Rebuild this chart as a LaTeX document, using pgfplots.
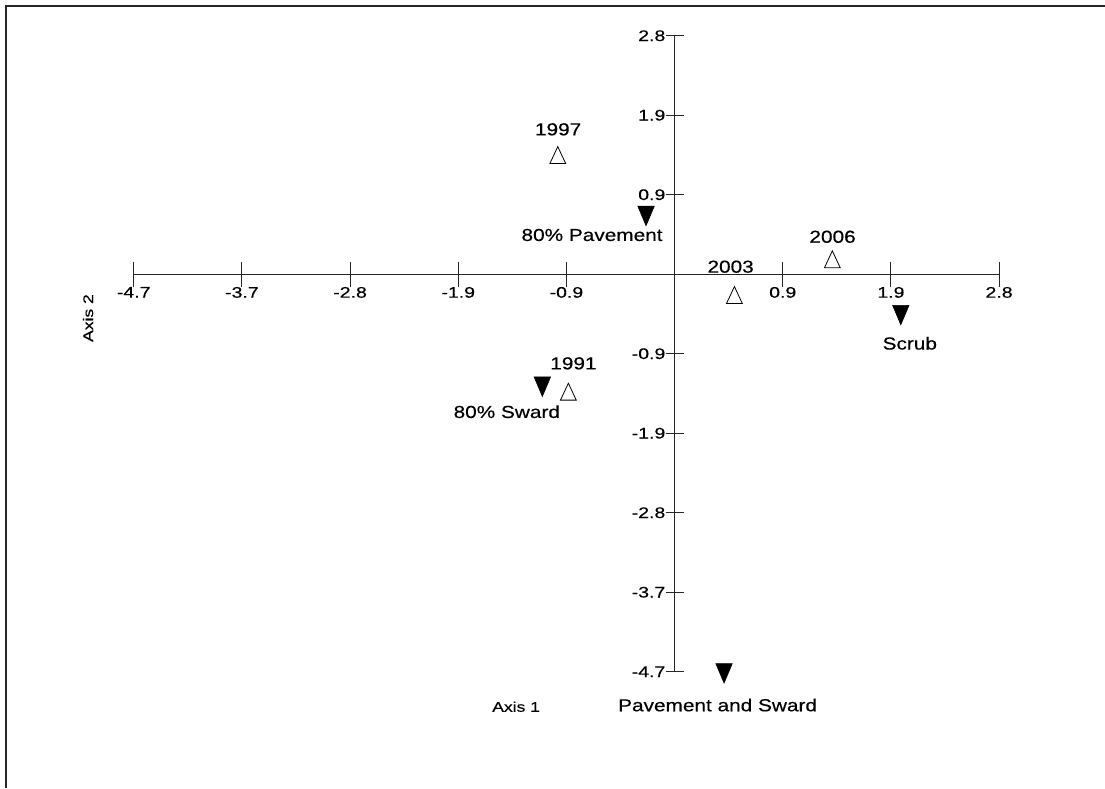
\documentclass[border=0pt]{standalone}
\usepackage{fontspec}
\setmainfont{Liberation Sans}[FakeBold=0.35]
\usepackage{graphicx}
\usepackage{pgfplots}
\pgfplotsset{compat=1.18}
\newcommand{\tl}[1]{\scalebox{1.27}[1]{\fontsize{11.5}{13}\selectfont #1}}
\newcommand{\pl}[1]{\scalebox{1.2}[1]{\fontsize{13}{15}\selectfont #1}}
\newcommand{\al}[1]{\scalebox{1.25}[1]{\fontsize{10.5}{12}\selectfont #1}}
\pgfplotsset{
  geom/.style={
    at={(100.3pt,87.2pt)}, anchor=south west,
    scale only axis, width=649pt, height=477pt,
    xmin=-4.7, xmax=2.82, ymin=-4.7, ymax=2.82,
    axis lines=middle, axis line style={-, line width=0.8pt, black!85},
    clip=false, tick align=center,
    tick style={line width=0.8pt, black!85},
  }
}
\begin{document}
\begin{tikzpicture}
\useasboundingbox (0,0) rectangle (828.75pt,591pt);
\draw[line width=1pt, black!85] (4.5pt,0) -- (4.5pt,586.5pt) -- (828.75pt,586.5pt);
\begin{axis}[geom,
  major tick length=18.75pt,
  xtick={-4.7,-3.76,-2.82,-1.88,-0.94,0.94,1.88,2.82},
  xticklabels={\tl{-4.7},\tl{-3.7},\tl{-2.8},\tl{-1.9},\tl{-0.9},\tl{0.9},\tl{1.9},\tl{2.8}},
  ytick=\empty,
  xticklabel style={anchor=north, inner sep=0pt},
]
\addplot[only marks, mark=triangle, mark size=6.5pt,
  mark options={xscale=1.05, yscale=1.3, line width=0.6pt, fill=white, draw=black}]
  coordinates {(-1.015,1.376) (-0.923,-1.422) (0.520,-0.279) (1.371,0.143)};
\addplot[only marks, mark=triangle*, mark size=6.5pt,
  mark options={rotate=180, xscale=1.1, yscale=1.5, fill=black, draw=black}]
  coordinates {(-0.248,0.727) (-1.149,-1.292) (1.966,-0.444) (0.430,-4.681)};
\node at (axis cs:-1.012,1.713) {\pl{1997}};
\node at (axis cs:-0.879,-1.054) {\pl{1991}};
\node at (axis cs:0.487,0.089) {\pl{2003}};
\node at (axis cs:1.373,0.443) {\pl{2006}};
\node at (axis cs:-0.717,0.464) {\pl{80\% Pavement}};
\node at (axis cs:-1.458,-1.626) {\pl{80\% Sward}};
\node at (axis cs:2.044,-0.817) {\pl{Scrub}};
\node at (axis cs:0.374,-5.094) {\pl{Pavement and Sward}};
\node at (axis cs:-1.377,-5.114) {\al{Axis 1}};
\node[rotate=90] at (axis cs:-5.097,-0.518) {\al{Axis 2}};
\end{axis}
\begin{axis}[geom,
  hide x axis,
  major tick length=13.5pt,
  xtick=\empty,
  ytick={-4.7,-3.76,-2.82,-1.88,-0.94,0.94,1.88,2.82},
  yticklabels={\tl{-4.7},\tl{-3.7},\tl{-2.8},\tl{-1.9},\tl{-0.9},\tl{0.9},\tl{1.9},\tl{2.8}},
  yticklabel style={anchor=east, inner sep=0pt},
]
\end{axis}
\end{tikzpicture}
\end{document}
